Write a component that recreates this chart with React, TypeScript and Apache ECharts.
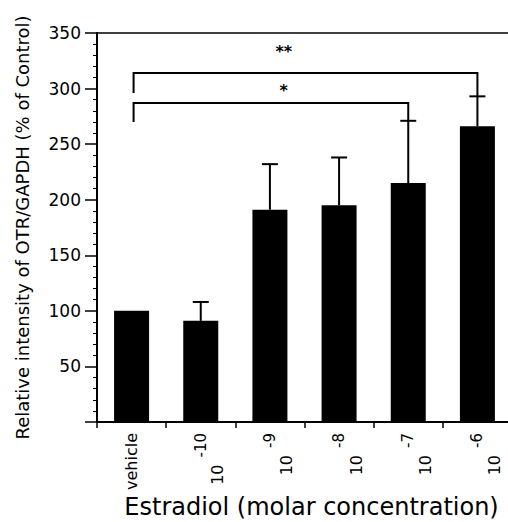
import React, { useEffect, useRef } from "react";
import * as echarts from "echarts";

const categories = ["vehicle", "-10", "-9", "-8", "-7", "-6"];
const means = [100, 91, 191, 195, 215, 266];
const errors = [0, 17, 41, 43, 56, 27];
const yTicks = { min: 0, max: 350, interval: 50 };

// significance brackets: from/to category index, bar level, left drop end, label, label height
const bracketFrom = [0, 0];
const bracketTo = [5, 4];
const bracketLevel = [314, 287];
const bracketLeftEnd = [296, 270];
const bracketLabels = ["**", "*"];
const bracketLabelY = [333, 298];

const FONT = "'DejaVu Sans', 'Liberation Sans', Arial, sans-serif";

export default function App() {
  const ref = useRef<HTMLDivElement>(null);
  useEffect(() => {
    document.body.style.margin = "0";
    const chart = echarts.init(ref.current!, null, { renderer: "svg" });
    const errData = categories.map((c, i) => [i, means[i], errors[i]]);
    const brData = bracketFrom.map((f, i) => [
      f,
      bracketLevel[i],
      bracketTo[i],
      bracketLeftEnd[i],
      means[bracketTo[i]] + errors[bracketTo[i]],
      bracketLabelY[i],
    ]);
    const option: any = {
      animation: false,
      backgroundColor: "#fff",
      textStyle: { fontFamily: FONT },
      grid: { left: 97, top: 33, width: 415, height: 389, containLabel: false, outerBoundsMode: "none" },
      xAxis: [
        {
          type: "category",
          data: categories,
          position: "bottom",
          axisLine: { lineStyle: { color: "#000", width: 2 } },
          axisTick: { show: true, length: 6, lineStyle: { color: "#000", width: 1.5 } },
          axisLabel: {
            rotate: 90,
            margin: 11,
            color: "#000",
            fontSize: 16,
            fontFamily: FONT,
            formatter: (v: string) => (v === "vehicle" ? "vehicle" : `{base|10}{sup|${v}}`),
            rich: {
              base: { fontSize: 16, lineHeight: 50, verticalAlign: "bottom", fontFamily: FONT, color: "#000" },
              sup: { fontSize: 15, lineHeight: 50, verticalAlign: "middle", padding: [0, 0, 0, 7], fontFamily: FONT, color: "#000" },
            },
          },
          name: "Estradiol (molar concentration)",
          nameLocation: "middle",
          nameGap: 73,
          nameMoveOverlap: false,
          nameTextStyle: { fontSize: 24, color: "#000", fontFamily: FONT, padding: [0, 0, 0, 14] },
        },
        {
          type: "category",
          data: categories,
          position: "top",
          axisLine: { show: true, lineStyle: { color: "#000", width: 1.5 } },
          axisTick: { show: false },
          axisLabel: { show: false },
        },
      ],
      yAxis: {
        type: "value",
        min: yTicks.min,
        max: yTicks.max,
        interval: yTicks.interval,
        axisLine: { show: true, lineStyle: { color: "#000", width: 2 } },
        axisTick: { show: true, length: 12, lineStyle: { color: "#000", width: 1.5 } },
        minorTick: { show: true, splitNumber: 5, length: 4, lineStyle: { color: "#000", width: 1 } },
        splitLine: { show: false },
        axisLabel: {
          margin: 16,
          color: "#000",
          fontSize: 17,
          fontFamily: FONT,
          formatter: (v: number) => (v === 0 ? "" : String(v)),
        },
        name: "Relative intensity of OTR/GAPDH (% of Control)",
        nameLocation: "middle",
        nameGap: 66,
        nameTextStyle: { fontSize: 18, color: "#000", fontFamily: FONT },
      },
      series: [
        {
          type: "bar",
          data: means,
          barWidth: 35,
          itemStyle: { color: "#000" },
          xAxisIndex: 0,
        },
        {
          type: "custom",
          xAxisIndex: 0,
          data: errData,
          encode: { x: 0, y: 1 },
          z: 3,
          renderItem: (params: any, api: any) => {
            const i = api.value(0);
            const m = api.value(1);
            const e = api.value(2);
            if (!e) return null;
            const top = api.coord([i, m + e]);
            const bot = api.coord([i, m]);
            return {
              type: "group",
              children: [
                { type: "line", shape: { x1: top[0], y1: top[1], x2: bot[0], y2: bot[1] }, style: { stroke: "#000", lineWidth: 2 } },
                { type: "line", shape: { x1: top[0] - 8, y1: top[1], x2: top[0] + 8, y2: top[1] }, style: { stroke: "#000", lineWidth: 2 } },
              ],
            };
          },
        },
        {
          type: "custom",
          xAxisIndex: 0,
          data: brData,
          encode: { x: 0, y: 1 },
          z: 3,
          renderItem: (params: any, api: any) => {
            const f = api.value(0);
            const lvl = api.value(1);
            const t = api.value(2);
            const le = api.value(3);
            const re = api.value(4);
            const ly = api.value(5);
            const a = api.coord([f, lvl]);
            const b = api.coord([t, lvl]);
            const aEnd = api.coord([f, le]);
            const bEnd = api.coord([t, re]);
            const c0 = api.coord([0, ly]);
            const c1 = api.coord([1, ly]);
            const band = c1[0] - c0[0];
            const lx = c0[0] + band * 2.2;
            return {
              type: "group",
              children: [
                {
                  type: "polyline",
                  shape: { points: [[a[0] + 2, aEnd[1]], [a[0] + 2, a[1]], [b[0], b[1]], [b[0], bEnd[1]]] },
                  style: { stroke: "#000", lineWidth: 2, fill: "none" },
                },
                {
                  type: "text",
                  x: lx,
                  y: c0[1],
                  style: {
                    text: bracketLabels[params.dataIndex],
                    fontSize: 16,
                    fontWeight: "bold",
                    fontFamily: FONT,
                    fill: "#000",
                    align: "center",
                    verticalAlign: "middle",
                  },
                },
              ],
            };
          },
        },
      ],
    };
    chart.setOption(option);
    return () => chart.dispose();
  }, []);
  return <div ref={ref} style={{ width: 508, height: 522 }} />;
}
